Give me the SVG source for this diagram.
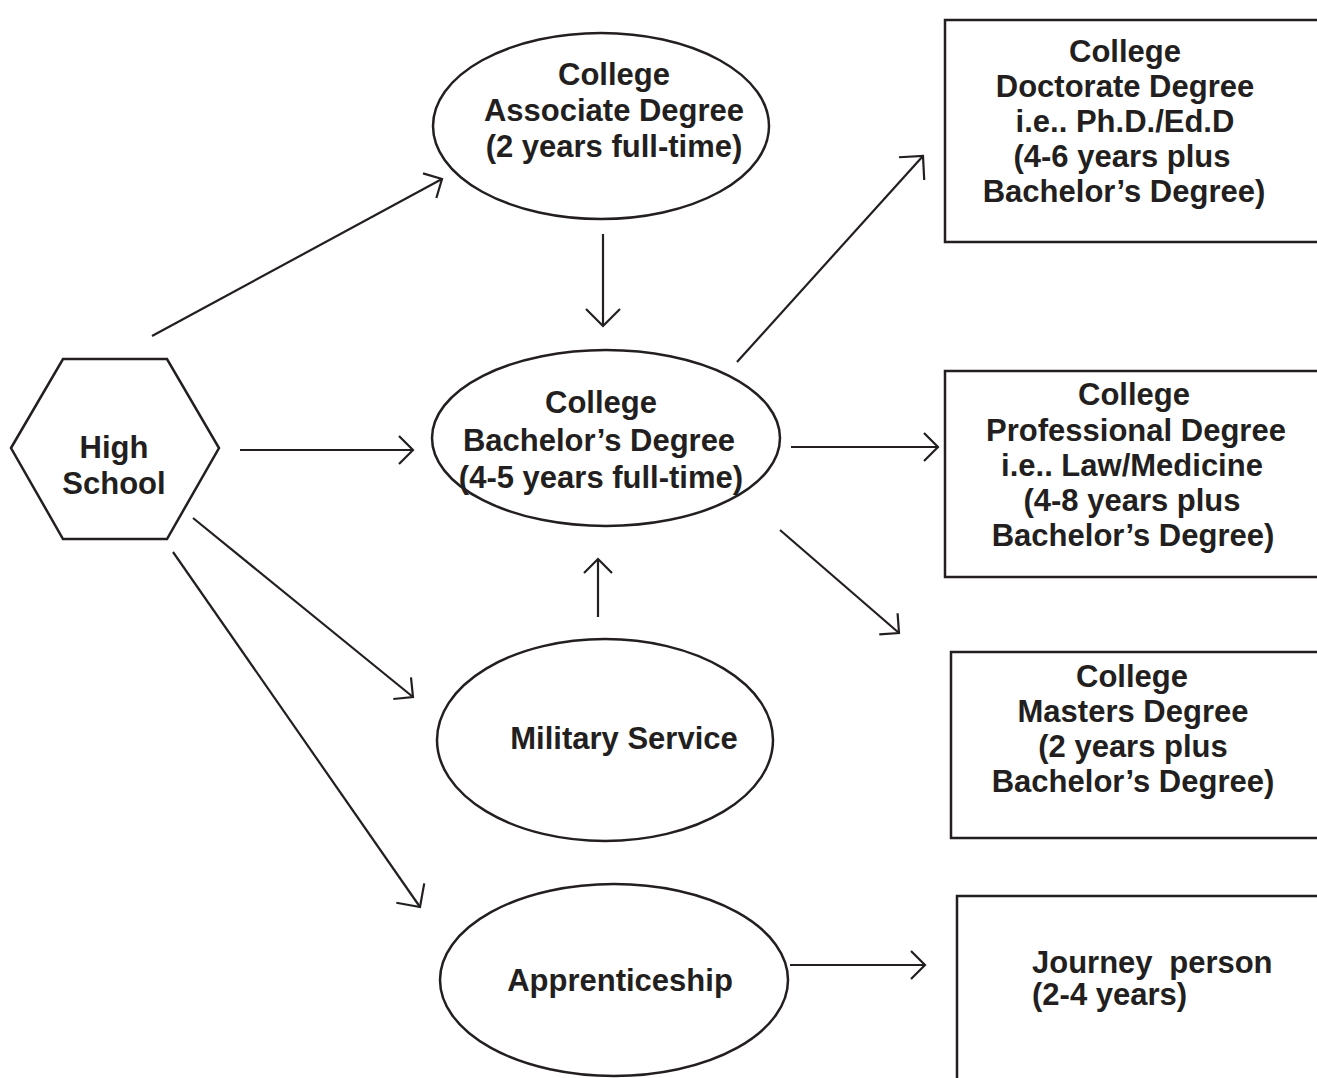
<svg xmlns="http://www.w3.org/2000/svg" width="1317" height="1078" viewBox="0 0 1317 1078">
<defs>
<style>
.shape{fill:#fff;stroke:#231f20;stroke-width:2.5}
.conn{fill:none;stroke:#231f20;stroke-width:2.2}
text{font-family:"Liberation Sans",Arial,Helvetica,sans-serif;font-weight:bold;font-size:31px;fill:#231f20}
.c{text-anchor:middle}
</style>
<marker id="arr" markerUnits="userSpaceOnUse" viewBox="-20 -20 40 40" markerWidth="40" markerHeight="40" refX="0" refY="0" orient="auto" overflow="visible">
<path d="M-14,-14 L0,0 L-14,14" fill="none" stroke="#231f20" stroke-width="2.2" stroke-linecap="butt" stroke-linejoin="miter"/>
</marker>
<marker id="arrL" markerUnits="userSpaceOnUse" viewBox="-20 -20 40 40" markerWidth="40" markerHeight="40" refX="0" refY="0" orient="auto" overflow="visible">
<path d="M-17,-17 L0,0 L-17,17" fill="none" stroke="#231f20" stroke-width="2.2" stroke-linecap="butt" stroke-linejoin="miter"/>
</marker>
</defs>
<rect width="1317" height="1078" fill="#fff"/>

<g id="connectors">
<line class="conn" x1="152" y1="336" x2="442" y2="179" marker-end="url(#arr)"/>
<line class="conn" x1="603" y1="234" x2="603" y2="326" marker-end="url(#arrL)"/>
<line class="conn" x1="240" y1="450" x2="413" y2="450" marker-end="url(#arr)"/>
<line class="conn" x1="791" y1="447" x2="938" y2="447" marker-end="url(#arr)"/>
<line class="conn" x1="737" y1="362" x2="923" y2="156" marker-end="url(#arrL)"/>
<line class="conn" x1="780" y1="530" x2="899" y2="633" marker-end="url(#arr)"/>
<line class="conn" x1="598" y1="617" x2="598" y2="559" marker-end="url(#arr)"/>
<line class="conn" x1="193" y1="518" x2="413" y2="697" marker-end="url(#arr)"/>
<line class="conn" x1="173" y1="552" x2="420" y2="907" marker-end="url(#arrL)"/>
<line class="conn" x1="790" y1="965" x2="925" y2="965" marker-end="url(#arr)"/>
</g>

<g id="high-school">
<polygon class="shape" points="11,448 63,359 167,359 219,448 167,539 63,539" stroke-width="2"/>
<text class="c" x="114" y="458" font-size="32">High</text>
<text class="c" x="114" y="494" font-size="32">School</text>
</g>

<g id="associate">
<ellipse class="shape" cx="601" cy="126" rx="168" ry="93"/>
<text class="c" x="614" y="85">College</text>
<text class="c" x="614" y="121">Associate Degree</text>
<text class="c" x="614" y="157">(2 years full-time)</text>
</g>

<g id="bachelor">
<ellipse class="shape" cx="606" cy="438" rx="174" ry="88"/>
<text class="c" x="601" y="413">College</text>
<text class="c" x="599" y="451">Bachelor’s Degree</text>
<text class="c" x="601" y="488">(4-5 years full-time)</text>
</g>

<g id="military">
<ellipse class="shape" cx="605" cy="740" rx="168" ry="101"/>
<text class="c" x="624" y="749">Military Service</text>
</g>

<g id="apprenticeship">
<ellipse class="shape" cx="614" cy="980" rx="174" ry="96"/>
<text class="c" x="620" y="991">Apprenticeship</text>
</g>

<g id="doctorate">
<rect class="shape" x="945" y="20" width="400" height="222"/>
<text class="c" x="1125" y="62">College</text>
<text class="c" x="1125" y="97">Doctorate Degree</text>
<text class="c" x="1125" y="132">i.e.. Ph.D./Ed.D</text>
<text class="c" x="1122" y="167">(4-6 years plus</text>
<text class="c" x="1124" y="202">Bachelor’s Degree)</text>
</g>

<g id="professional">
<rect class="shape" x="945" y="371" width="400" height="206"/>
<text class="c" x="1134" y="405">College</text>
<text class="c" x="1136" y="441">Professional Degree</text>
<text class="c" x="1132" y="476">i.e.. Law/Medicine</text>
<text class="c" x="1132" y="511">(4-8 years plus</text>
<text class="c" x="1133" y="546">Bachelor’s Degree)</text>
</g>

<g id="masters">
<rect class="shape" x="951" y="652" width="400" height="186"/>
<text class="c" x="1132" y="687">College</text>
<text class="c" x="1133" y="722">Masters Degree</text>
<text class="c" x="1133" y="757">(2 years plus</text>
<text class="c" x="1133" y="792">Bachelor’s Degree)</text>
</g>

<g id="journey">
<rect class="shape" x="957" y="896" width="400" height="220"/>
<text x="1032" y="973" font-size="31" word-spacing="8">Journey person</text>
<text x="1032" y="1005" font-size="31">(2-4 years)</text>
</g>
</svg>
